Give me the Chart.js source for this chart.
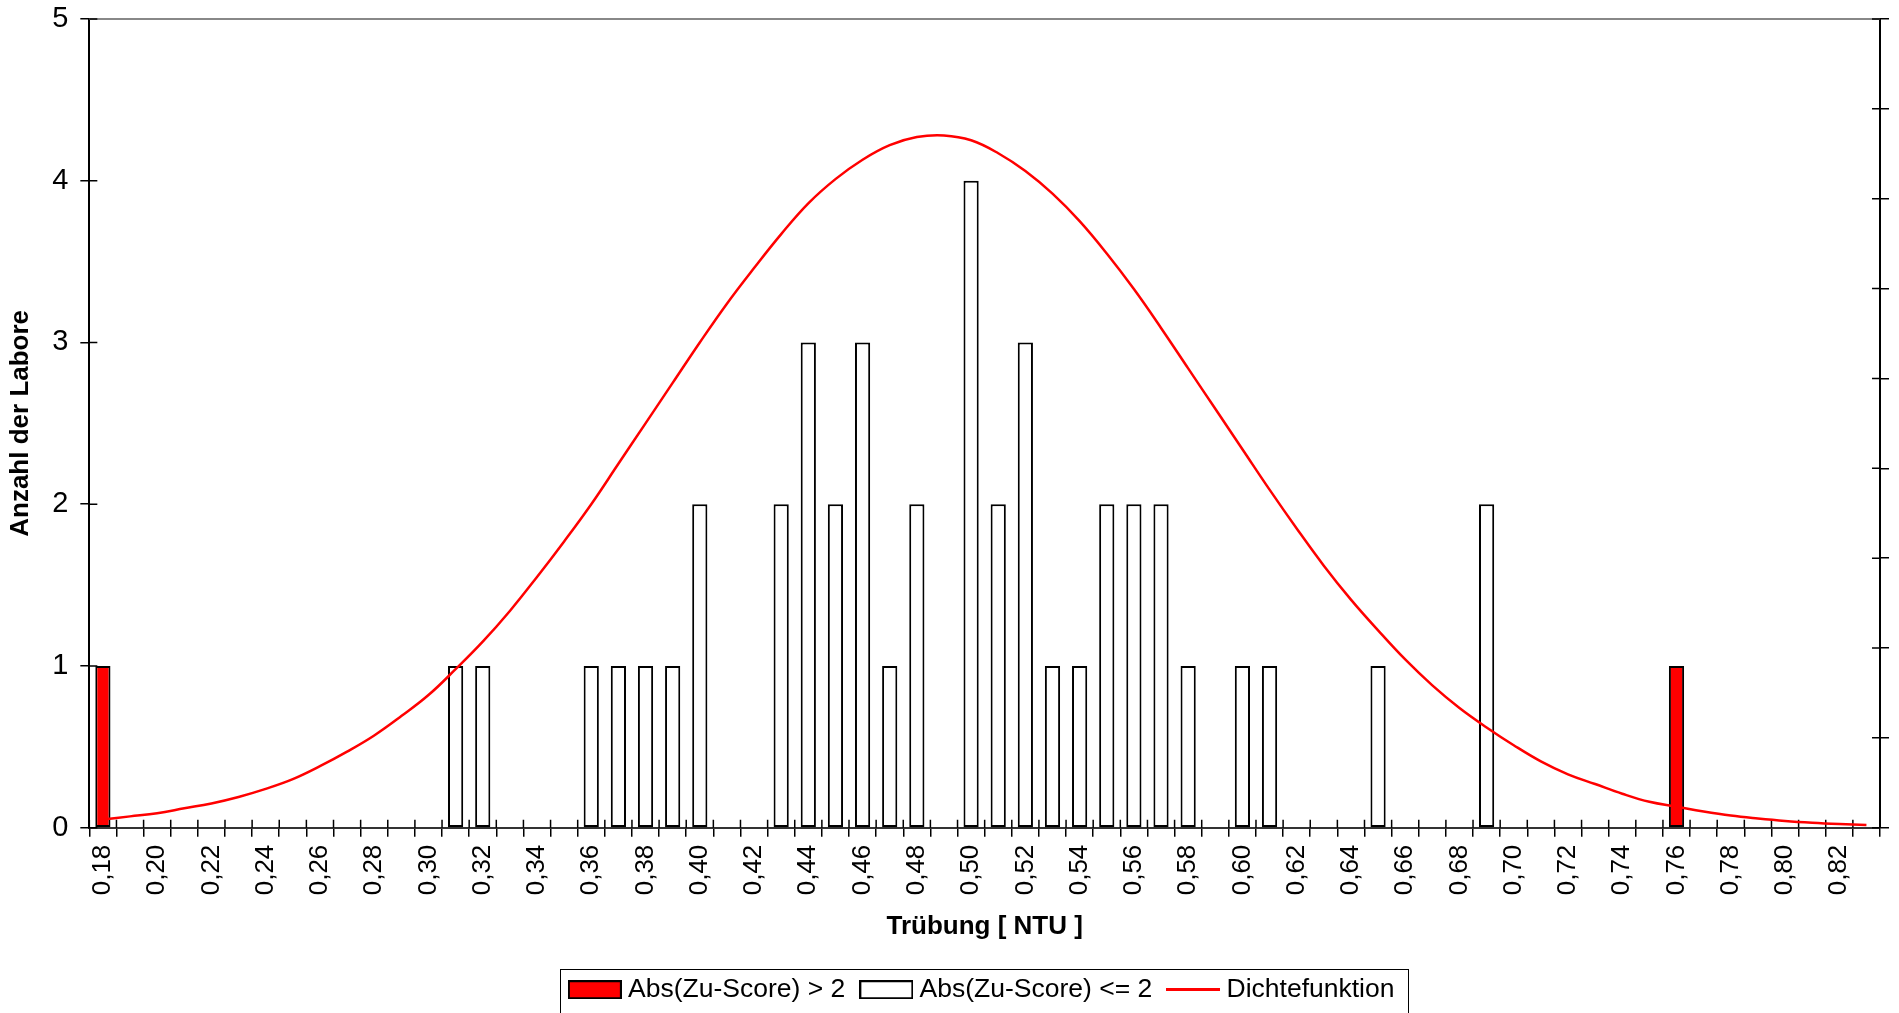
<!DOCTYPE html>
<html lang="de">
<head>
<meta charset="UTF-8">
<title>Trübung – Verteilung der Laborergebnisse</title>
<script src="https://cdn.jsdelivr.net/npm/chart.js@4"></script>
<style>
    html, body { margin: 0; padding: 0; background: #fff; }
    .chart-box { width: 1899px; height: 1013px; }
</style>
</head>
<body>
<div class="chart-box"><canvas id="verteilung"></canvas></div>
<script>
// Klassen der Trübung in NTU (Schritt 0,01)
const klassen = [
    '0,18', '0,19', '0,20', '0,21', '0,22', '0,23', '0,24', '0,25', '0,26', '0,27', '0,28',
    '0,29', '0,30', '0,31', '0,32', '0,33', '0,34', '0,35', '0,36', '0,37', '0,38', '0,39',
    '0,40', '0,41', '0,42', '0,43', '0,44', '0,45', '0,46', '0,47', '0,48', '0,49', '0,50',
    '0,51', '0,52', '0,53', '0,54', '0,55', '0,56', '0,57', '0,58', '0,59', '0,60', '0,61',
    '0,62', '0,63', '0,64', '0,65', '0,66', '0,67', '0,68', '0,69', '0,70', '0,71', '0,72',
    '0,73', '0,74', '0,75', '0,76', '0,77', '0,78', '0,79', '0,80', '0,81', '0,82', '0,83'
];

// Abs(Zu-Score) > 2
const anzahlAusreisser = [
    1, 0, 0, 0, 0, 0, 0, 0, 0, 0, 0,
    0, 0, 0, 0, 0, 0, 0, 0, 0, 0, 0,
    0, 0, 0, 0, 0, 0, 0, 0, 0, 0, 0,
    0, 0, 0, 0, 0, 0, 0, 0, 0, 0, 0,
    0, 0, 0, 0, 0, 0, 0, 0, 0, 0, 0,
    0, 0, 0, 1, 0, 0, 0, 0, 0, 0, 0
];

// Abs(Zu-Score) <= 2
const anzahlImBereich = [
    0, 0, 0, 0, 0, 0, 0, 0, 0, 0, 0,
    0, 0, 1, 1, 0, 0, 0, 1, 1, 1, 1,
    2, 0, 0, 2, 3, 2, 3, 1, 2, 0, 4,
    2, 3, 1, 1, 2, 2, 2, 1, 0, 1, 1,
    0, 0, 0, 1, 0, 0, 0, 2, 0, 0, 0,
    0, 0, 0, 0, 0, 0, 0, 0, 0, 0, 0
];

const dichte = [
    0.05, 0.07, 0.09, 0.12, 0.15, 0.19, 0.24, 0.30, 0.38, 0.47, 0.57,
    0.69, 0.82, 0.98, 1.15, 1.34, 1.55, 1.77, 2.00, 2.25, 2.50, 2.75,
    3.00, 3.24, 3.46, 3.67, 3.86, 4.01, 4.13, 4.22, 4.27, 4.28, 4.25,
    4.17, 4.06, 3.92, 3.75, 3.55, 3.33, 3.09, 2.84, 2.59, 2.34, 2.09,
    1.85, 1.62, 1.41, 1.22, 1.04, 0.88, 0.74, 0.62, 0.51, 0.41, 0.33,
    0.27, 0.21, 0.16, 0.13, 0.10, 0.075, 0.057, 0.042, 0.031, 0.023, 0.017
];

const ohneNull = werte => werte.map(v => (v === 0 ? null : v));

Chart.defaults.font.family = "'Liberation Sans', Arial, sans-serif";
Chart.defaults.font.size = 26;
Chart.defaults.color = '#000';

// kleine Symbole fuer die Legende (Balken bzw. Linie)
function legendenSymbol(fuellung, rand, breite, hoehe) {
    const c = document.createElement('canvas');
    c.width = breite;
    c.height = hoehe;
    const g = c.getContext('2d');
    g.fillStyle = fuellung;
    g.fillRect(0, 0, breite, hoehe);
    if (rand) {
        g.strokeStyle = rand;
        g.lineWidth = 2;
        g.strokeRect(1, 1, breite - 2, hoehe - 2);
    }
    return c;
}
const symbolRot = legendenSymbol('#ff0000', '#000', 54, 19);
const symbolWeiss = legendenSymbol('#ffffff', '#000', 54, 19);
const symbolLinie = legendenSymbol('#ff0000', null, 54, 3);

// Teilstriche nach innen, obere Rahmenlinie und Rahmen um die Legende
const achsenDetails = {
    id: 'achsenDetails',
    beforeDatasetsDraw(chart) {
        const { ctx, chartArea, scales } = chart;
        const innen = 8;
        ctx.save();
        ctx.strokeStyle = '#888';
        ctx.lineWidth = 2;
        ctx.beginPath();
        ctx.moveTo(chartArea.left, chartArea.top);
        ctx.lineTo(chartArea.right, chartArea.top);
        ctx.stroke();

        ctx.strokeStyle = '#000';
        ctx.lineWidth = 1.5;
        ctx.beginPath();
        scales.y.ticks.forEach((t, i) => {
            const py = scales.y.getPixelForTick(i);
            ctx.moveTo(chartArea.left, py);
            ctx.lineTo(chartArea.left + innen, py);
        });
        scales.yRechts.ticks.forEach((t, i) => {
            const py = scales.yRechts.getPixelForTick(i);
            ctx.moveTo(chartArea.right - innen, py);
            ctx.lineTo(chartArea.right, py);
        });
        for (let i = 0; i <= klassen.length; i++) {
            const px = scales.x.getPixelForValue(i - 0.5);
            ctx.moveTo(px, chartArea.bottom - innen);
            ctx.lineTo(px, chartArea.bottom);
        }
        ctx.stroke();
        ctx.restore();
    },
    afterDraw(chart) {
        const boxes = chart.legend.legendHitBoxes;
        if (!boxes || !boxes.length) return;
        const { ctx } = chart;
        const links = Math.min(...boxes.map(b => b.left)) - 15;
        const rechts = Math.max(...boxes.map(b => b.left + b.width)) + 13;
        const oben = boxes[0].top - 8;
        const unten = boxes[0].top + boxes[0].height + 9;
        ctx.save();
        ctx.strokeStyle = '#000';
        ctx.lineWidth = 1;
        ctx.strokeRect(Math.round(links) + 0.5, Math.round(oben) + 0.5, Math.round(rechts - links), Math.round(unten - oben));
        ctx.restore();
    }
};

new Chart(document.getElementById('verteilung'), {
    type: 'bar',
    data: {
        labels: klassen,
        datasets: [
            {
                label: 'Abs(Zu-Score) > 2',
                data: ohneNull(anzahlAusreisser),
                backgroundColor: '#ff0000',
                borderColor: '#000',
                borderWidth: 2,
                borderSkipped: false,
                grouped: false,
                barPercentage: 0.56,
                categoryPercentage: 1,
                order: 1
            },
            {
                label: 'Abs(Zu-Score) <= 2',
                data: ohneNull(anzahlImBereich),
                backgroundColor: '#fff',
                borderColor: '#000',
                borderWidth: 2,
                borderSkipped: false,
                grouped: false,
                barPercentage: 0.56,
                categoryPercentage: 1,
                order: 1
            },
            {
                type: 'line',
                label: 'Dichtefunktion',
                data: dichte,
                borderColor: '#ff0000',
                backgroundColor: '#ff0000',
                borderWidth: 2.5,
                pointRadius: 0,
                tension: 0.4,
                order: 0
            }
        ]
    },
    options: {
        responsive: true,
        maintainAspectRatio: false,
        animation: false,
        layout: { padding: { left: 1, right: 10, top: 0, bottom: 0 } },
        scales: {
            x: {
                offset: true,
                afterFit: scale => { scale.paddingRight = 0; },
                grid: { offset: true, drawOnChartArea: false, drawTicks: true, tickLength: 9, color: '#000', lineWidth: 1.5 },
                border: { color: '#333', width: 2 },
                ticks: {
                    autoSkip: false,
                    minRotation: 90,
                    maxRotation: 90,
                    padding: 8,
                    font: { size: 26 },
                    callback: (wert, index) => (index % 2 === 0 ? klassen[index] : '')
                },
                title: {
                    display: true,
                    text: 'Trübung [ NTU ]',
                    font: { size: 26, weight: 'bold' },
                    padding: { top: 8, bottom: 13 }
                }
            },
            y: {
                position: 'left',
                min: 0,
                max: 5,
                afterFit: scale => { scale.paddingTop = 19; },
                ticks: { stepSize: 1, padding: 12, font: { size: 29, lineHeight: 1.0 } },
                grid: { drawOnChartArea: false, drawTicks: true, tickLength: 9, color: '#000', lineWidth: 1.5 },
                border: { color: '#000', width: 2 },
                title: {
                    display: true,
                    text: 'Anzahl der Labore',
                    font: { size: 26, weight: 'bold' },
                    padding: { top: 4, bottom: 4 }
                }
            },
            yRechts: {
                position: 'right',
                min: 0,
                max: 9,
                ticks: { display: false, stepSize: 1 },
                grid: { drawOnChartArea: false, drawTicks: true, tickLength: 9, color: '#000', lineWidth: 1.5 },
                border: { color: '#000', width: 2 }
            }
        },
        plugins: {
            tooltip: { enabled: false },
            legend: {
                position: 'bottom',
                fullSize: false,
                labels: {
                    usePointStyle: true,
                    pointStyleWidth: 40,
                    boxHeight: 19,
                    padding: 21,
                    font: { size: 26.5 },
                    sort: (a, b) => a.datasetIndex - b.datasetIndex,
                    generateLabels(chart) {
                        const items = Chart.defaults.plugins.legend.labels.generateLabels(chart);
                        const symbole = [symbolRot, symbolWeiss, symbolLinie];
                        items.forEach(item => {
                            item.pointStyle = symbole[item.datasetIndex];
                        });
                        return items;
                    }
                }
            }
        }
    },
    plugins: [achsenDetails]
});
</script>
</body>
</html>
